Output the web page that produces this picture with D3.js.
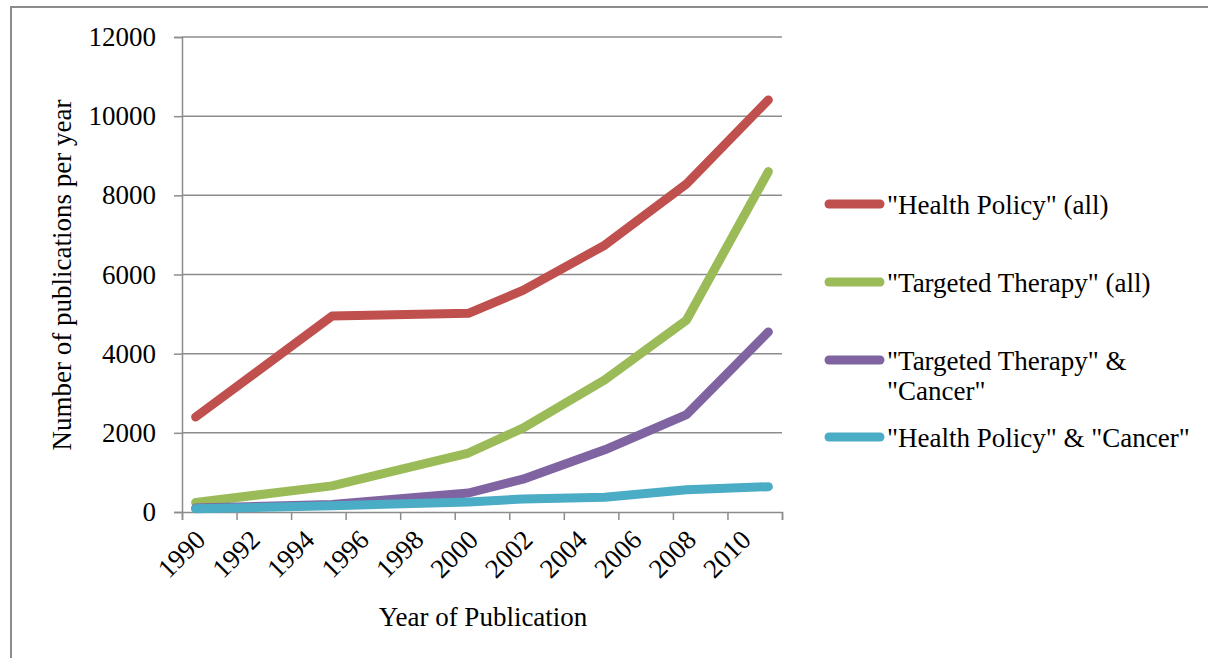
<!DOCTYPE html>
<html>
<head>
<meta charset="utf-8">
<script src="https://cdn.jsdelivr.net/npm/d3@7"></script>
<style>
  body { margin: 0; background: #fff; }
  text { font-family: "Liberation Serif", serif; fill: #000; }
</style>
</head>
<body>
<div class="chart"></div>
<script>
// data
var years = [1990, 1995, 2000, 2002, 2005, 2008, 2011];
var hpAll = [2400, 4950, 5020, 5600, 6740, 8290, 10410];
var ttAll = [240, 660, 1490, 2120, 3340, 4850, 8600];
var ttCancer = [100, 190, 480, 830, 1570, 2460, 4550];
var hpCancer = [80, 160, 250, 330, 370, 560, 640];
var seriesNames = ['"Health Policy" (all)', '"Targeted Therapy" (all)', '"Targeted Therapy" & "Cancer"', '"Health Policy" & "Cancer"'];
var colors = ["#c0504d", "#9bbb59", "#8064a2", "#4bacc6"];
var yTicks = [0, 2000, 4000, 6000, 8000, 10000, 12000];
var xTickYears = [1990, 1992, 1994, 1996, 1998, 2000, 2002, 2004, 2006, 2008, 2010];

var width = 1208, height = 658;
var fs = "27px";
var svg = d3.select(".chart").append("svg")
    .attr("width", width)
    .attr("height", height);

// outer frame (runs off right/bottom)
svg.append("rect").attr("x", 11).attr("y", 7).attr("width", 1210).attr("height", 670)
    .attr("fill", "none").attr("stroke", "#8c8c8c").attr("stroke-width", 2);

var x = d3.scaleLinear().domain([1990, 2012]).range([182, 782]);
var y = d3.scaleLinear().domain([0, 12000]).range([512, 37]);

// gridlines + y labels
var yAxis = svg.append("g").attr("transform", "translate(182,0)")
    .call(d3.axisLeft(y).tickValues(yTicks).tickSize(8).tickPadding(18).tickFormat(d3.format("d")));
yAxis.select(".domain").attr("stroke", "#8c8c8c").attr("stroke-width", 1.5);
yAxis.selectAll(".tick line").attr("stroke", "#8c8c8c").attr("stroke-width", 1.5);
yAxis.selectAll(".tick text").style("font-size", fs).attr("font-family", null);
svg.append("g").selectAll("line").data(yTicks.slice(1)).join("line")
    .attr("x1", 182).attr("x2", 782)
    .attr("y1", function(d){ return y(d); }).attr("y2", function(d){ return y(d); })
    .attr("stroke", "#8c8c8c").attr("stroke-width", 1.5);

// x axis
var xAxis = svg.append("g").attr("transform", "translate(0,512)")
    .call(d3.axisBottom(x).tickValues(d3.range(1990, 2013, 2)).tickSize(8).tickFormat(""));
xAxis.select(".domain").attr("stroke", "#8c8c8c").attr("stroke-width", 1.5);
xAxis.selectAll(".tick line").attr("stroke", "#8c8c8c").attr("stroke-width", 1.5);

svg.append("g").selectAll("text").data(xTickYears).join("text")
    .attr("transform", function(d){ return "translate(" + (x(d + 0.5) - 2) + ",528) rotate(-45)"; })
    .attr("text-anchor", "end")
    .attr("dy", "0.7em")
    .style("font-size", fs)
    .text(function(d){ return d; });

// axis titles
svg.append("text").attr("x", 483).attr("y", 626).attr("text-anchor", "middle")
    .style("font-size", fs).text("Year of Publication");
svg.append("text").attr("transform", "translate(71,275) rotate(-90)").attr("text-anchor", "middle")
    .style("font-size", fs).text("Number of publications per year");

// lines
var allSeries = [hpAll, ttAll, ttCancer, hpCancer];
var line = d3.line()
    .x(function(d, i){ return x(years[i] + 0.5); })
    .y(function(d){ return y(d); });
svg.append("g").selectAll("path").data(allSeries).join("path")
    .attr("d", line)
    .attr("fill", "none")
    .attr("stroke", function(d, i){ return colors[i]; })
    .attr("stroke-width", 9)
    .attr("stroke-linecap", "round")
    .attr("stroke-linejoin", "round");

// legend
var legendY = [204, 282, 360, 437];
var legendLines = [['"Health Policy" (all)'], ['"Targeted Therapy" (all)'], ['"Targeted Therapy" &', '"Cancer"'], ['"Health Policy" & "Cancer"']];
var lg = svg.append("g").selectAll("g").data(seriesNames).join("g")
    .attr("transform", function(d, i){ return "translate(0," + legendY[i] + ")"; });
lg.append("line").attr("x1", 829).attr("x2", 880).attr("y1", 0).attr("y2", 0)
    .attr("stroke", function(d, i){ return colors[i]; })
    .attr("stroke-width", 9).attr("stroke-linecap", "round");
lg.each(function(d, i){
    var t = d3.select(this).append("text").attr("x", 887).attr("y", 10).style("font-size", fs);
    legendLines[i].forEach(function(s, j){
        t.append("tspan").attr("x", 887).attr("dy", j == 0 ? 0 : 30).text(s);
    });
});
</script>
</body>
</html>
